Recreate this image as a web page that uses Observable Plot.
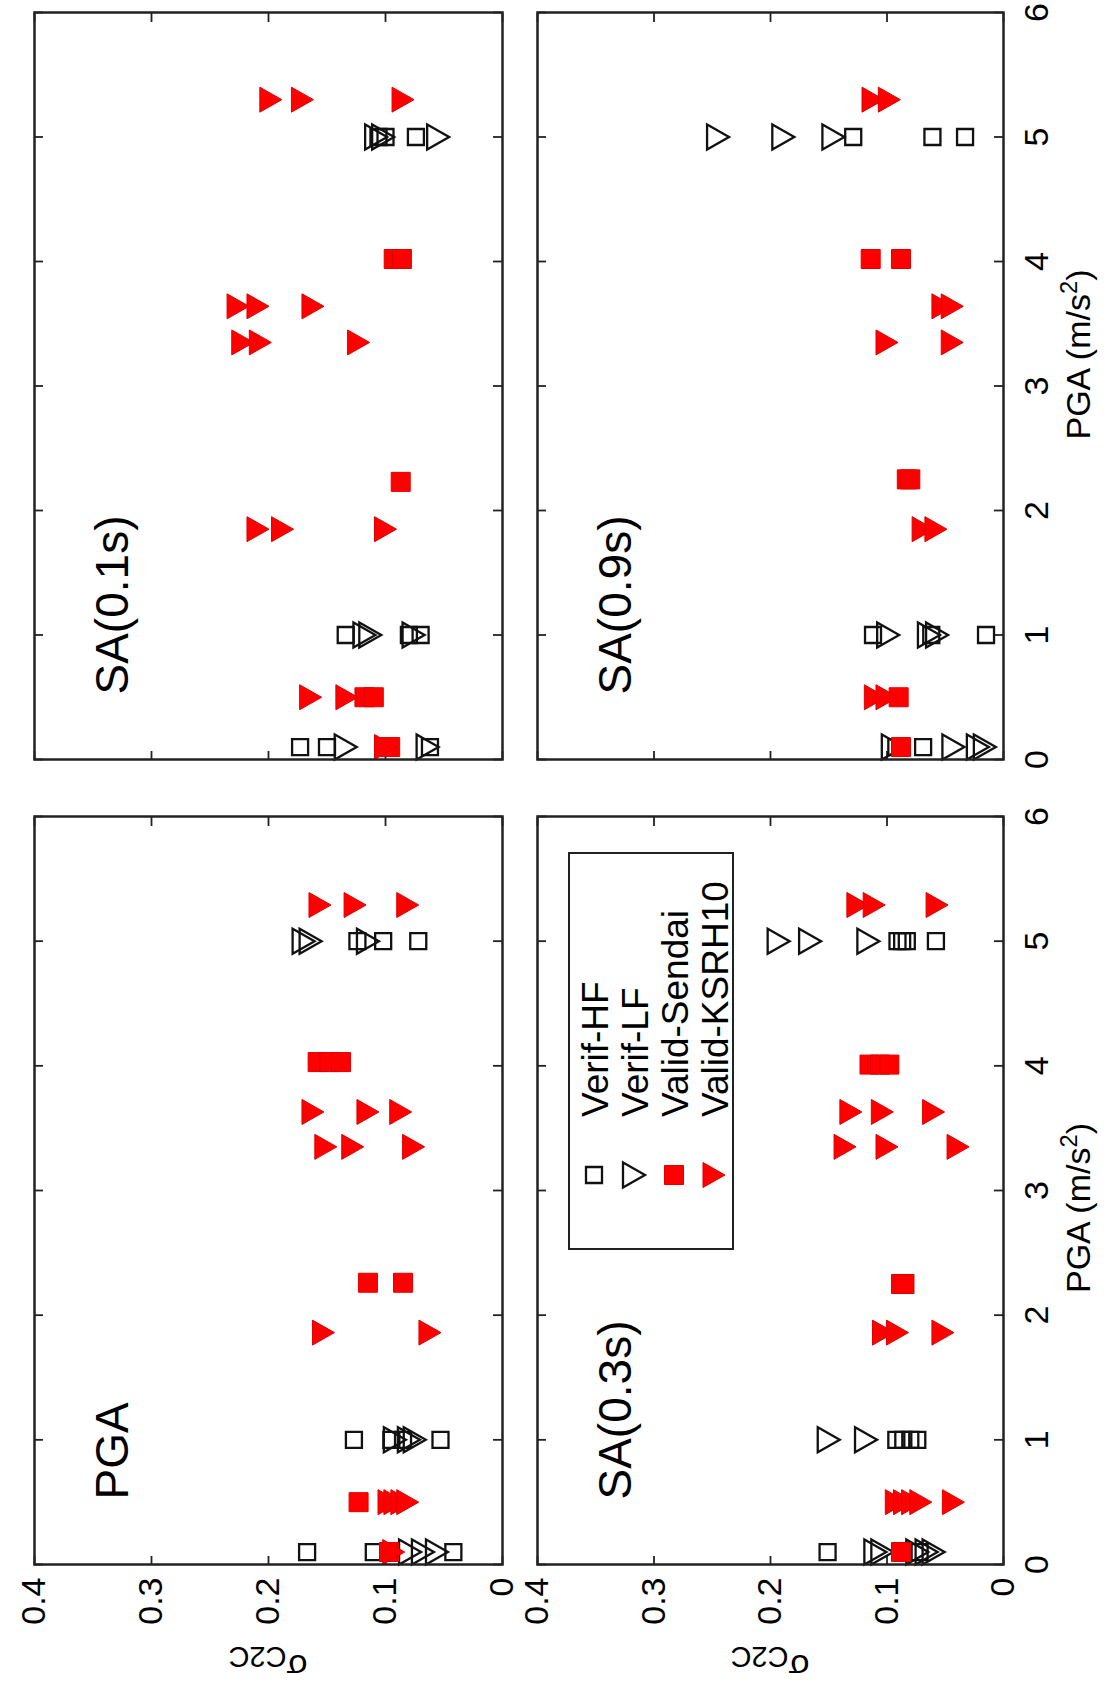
<!DOCTYPE html>
<html>
<head>
<meta charset="utf-8">
<script src="https://cdn.jsdelivr.net/npm/d3@7"></script>
<script src="https://cdn.jsdelivr.net/npm/@observablehq/plot@0.6"></script>
<style>
  html, body { margin: 0; padding: 0; background: #fff; }
  body { width: 1108px; height: 1695px; overflow: hidden; position: relative; }
  #fig { position: absolute; left: 0; top: 0; width: 1695px; height: 1108px;
         transform-origin: 0 0; transform: translate(0px, 1695px) rotate(-90deg);
         font-family: "Liberation Sans", Arial, Helvetica, sans-serif; color: #000; }
  .panel { position: absolute; }
  .lbl { position: absolute; white-space: nowrap; font-size: 34px; line-height: 1; }
  #legend { position: absolute; box-sizing: border-box; border: 2px solid #222; background: #fff; }
  #legend .row { position: absolute; left: 0; height: 40px; width: 100%; }
  #legend svg { position: absolute; left: 58px; top: 5px; }
  #legend span { position: absolute; left: 131px; top: 3px; font-size: 37px; line-height: 1; white-space: nowrap; }
</style>
</head>
<body>
<div id="fig"></div>
<script>
// ---------------- data (PGA in m/s^2, sigma_C2C) ----------------
const xTicks = [0, 1, 2, 3, 4, 5, 6];
const yTicks = [0, 0.1, 0.2, 0.3, 0.4];
const seriesNames = ["Verif-HF", "Verif-LF", "Valid-Sendai", "Valid-KSRH10"];

// Panel PGA
const pga_verifHF = [[0.1,0.167],[0.1,0.110],[0.1,0.042],[1.0,0.127],[1.0,0.095],[1.0,0.085],[1.0,0.053],[5.0,0.124],[5.0,0.102],[5.0,0.072]];
const pga_verifLF = [[0.1,0.079],[0.1,0.068],[0.1,0.056],[1.0,0.092],[1.0,0.080],[1.0,0.075],[5.0,0.170],[5.0,0.164],[5.0,0.115]];
const pga_sendai  = [[0.1,0.097],[0.5,0.123],[2.26,0.115],[2.26,0.085],[4.03,0.158],[4.03,0.148],[4.03,0.138]];
const pga_ksrh10  = [[0.1,0.093],[0.5,0.097],[0.5,0.092],[0.5,0.086],[0.5,0.081],[1.86,0.153],[1.86,0.062],[3.35,0.151],[3.35,0.128],[3.35,0.076],[3.63,0.162],[3.63,0.115],[3.63,0.087],[5.29,0.156],[5.29,0.126],[5.29,0.081]];

// Panel SA(0.1s)
const sa01_verifHF = [[0.1,0.173],[0.1,0.150],[0.1,0.062],[1.0,0.134],[1.0,0.080],[1.0,0.070],[5.0,0.106],[5.0,0.100],[5.0,0.074]];
const sa01_verifLF = [[0.1,0.134],[0.1,0.064],[1.0,0.118],[1.0,0.113],[1.0,0.076],[5.0,0.108],[5.0,0.102],[5.0,0.055]];
const sa01_sendai  = [[0.1,0.096],[0.5,0.118],[0.5,0.110],[2.23,0.087],[4.02,0.093],[4.02,0.086]];
const sa01_ksrh10  = [[0.1,0.100],[0.5,0.164],[0.5,0.133],[1.85,0.209],[1.85,0.188],[1.85,0.100],[3.35,0.222],[3.35,0.207],[3.35,0.123],[3.64,0.226],[3.64,0.209],[3.64,0.162],[5.3,0.198],[5.3,0.171],[5.3,0.085]];

// Panel SA(0.3s)
const sa03_verifHF = [[0.1,0.151],[0.1,0.072],[1.0,0.092],[1.0,0.086],[1.0,0.080],[1.0,0.074],[5.0,0.091],[5.0,0.087],[5.0,0.083],[5.0,0.058]];
const sa03_verifLF = [[0.1,0.110],[0.1,0.104],[0.1,0.074],[0.1,0.066],[0.1,0.060],[1.0,0.150],[1.0,0.118],[5.0,0.193],[5.0,0.166],[5.0,0.116]];
const sa03_sendai  = [[0.1,0.088],[2.25,0.088],[2.25,0.085],[4.01,0.115],[4.01,0.106],[4.01,0.098]];
const sa03_ksrh10  = [[0.5,0.092],[0.5,0.085],[0.5,0.078],[0.5,0.071],[0.5,0.043],[1.86,0.103],[1.86,0.091],[1.86,0.052],[3.35,0.136],[3.35,0.100],[3.35,0.039],[3.63,0.131],[3.63,0.104],[3.63,0.060],[5.29,0.125],[5.29,0.111],[5.29,0.057]];

// Panel SA(0.9s)
const sa09_verifHF = [[0.1,0.092],[0.1,0.069],[1.0,0.112],[1.0,0.062],[1.0,0.015],[5.0,0.129],[5.0,0.061],[5.0,0.033]];
const sa09_verifLF = [[0.1,0.095],[0.1,0.043],[0.1,0.022],[0.1,0.016],[1.0,0.099],[1.0,0.064],[1.0,0.057],[5.0,0.245],[5.0,0.189],[5.0,0.146]];
const sa09_sendai  = [[0.1,0.088],[0.5,0.090],[2.25,0.083],[2.25,0.080],[4.02,0.114],[4.02,0.088]];
const sa09_ksrh10  = [[0.5,0.110],[0.5,0.100],[1.85,0.069],[1.85,0.058],[3.35,0.100],[3.35,0.044],[3.64,0.052],[3.64,0.044],[5.3,0.112],[5.3,0.098]];

// ---------------- symbols (MATLAB 's' and 'v') ----------------
const squareSym = { draw(ctx, size) { const r = Math.sqrt(size / Math.PI);
  ctx.moveTo(-r, -r); ctx.lineTo(r, -r); ctx.lineTo(r, r); ctx.lineTo(-r, r); ctx.closePath(); } };
const downTriSym = { draw(ctx, size) { const r = Math.sqrt(size / Math.PI); const h = r * 0.88;
  ctx.moveTo(-r, -h); ctx.lineTo(r, -h); ctx.lineTo(0, h); ctx.closePath(); } };

const styles = [
  { symbol: squareSym, r: 8,    fill: "none", stroke: "#111", strokeWidth: 2.3 },
  { symbol: downTriSym, r: 12.5, fill: "none", stroke: "#111", strokeWidth: 2.3 },
  { symbol: squareSym, r: 9.5,  fill: "#ff0000", stroke: "#e00000", strokeWidth: 1 },
  { symbol: downTriSym, r: 12.5, fill: "#ff0000", stroke: "#e00000", strokeWidth: 1 }
];

// ---------------- layout (figure drawn landscape, then rotated like the source) ----------------
const panels = [
  { title: "PGA",      x0: 130, y0: 34,  w: 748, h: 468, showY: true,  showX: false, series: [pga_verifHF, pga_verifLF, pga_sendai, pga_ksrh10] },
  { title: "SA(0.1s)", x0: 935, y0: 34,  w: 747, h: 468, showY: false, showX: false, series: [sa01_verifHF, sa01_verifLF, sa01_sendai, sa01_ksrh10] },
  { title: "SA(0.3s)", x0: 130, y0: 537, w: 748, h: 466, showY: true,  showX: true,  xlabShift: -17, series: [sa03_verifHF, sa03_verifLF, sa03_sendai, sa03_ksrh10], legend: true },
  { title: "SA(0.9s)", x0: 935, y0: 537, w: 747, h: 466, showY: false, showX: true,  xlabShift: 32, series: [sa09_verifHF, sa09_verifLF, sa09_sendai, sa09_ksrh10] }
];

const fig = document.getElementById("fig");
const ml = 120, mr = 12, mt = 12, mb = 100;
const tickLen = 9, axisColor = "#222";

for (const p of panels) {
  const W = p.w, H = p.h;
  const marks = [
    Plot.tickX(xTicks, { x: d => d, insetTop: H - tickLen, stroke: axisColor, strokeWidth: 1.8 }),
    Plot.tickX(xTicks, { x: d => d, insetBottom: H - tickLen, stroke: axisColor, strokeWidth: 1.8 }),
    Plot.tickY(yTicks, { y: d => d, insetRight: W - tickLen, stroke: axisColor, strokeWidth: 1.8 }),
    Plot.tickY(yTicks, { y: d => d, insetLeft: W - tickLen, stroke: axisColor, strokeWidth: 1.8 })
  ];
  p.series.forEach((data, i) => {
    const s = styles[i];
    marks.push(Plot.dot(data, { x: d => d[0], y: d => d[1], symbol: s.symbol, r: s.r,
      fill: s.fill, stroke: s.stroke, strokeWidth: s.strokeWidth }));
  });
  marks.push(Plot.frame({ stroke: axisColor, strokeWidth: 2.5 }));
  marks.push(Plot.text([p.title], { frameAnchor: "top-left", text: d => d, dx: 65, dy: 93,
    textAnchor: "start", lineAnchor: "bottom", fontSize: 46, fill: "#000" }));
  if (p.showY) marks.push(Plot.axisY(yTicks, { tickSize: 0, tickPadding: 13, fontSize: 34, label: null,
    tickFormat: d => String(d), fill: "#000" }));
  if (p.showX) marks.push(Plot.axisX(xTicks, { tickSize: 0, tickPadding: 20, fontSize: 34, label: null,
    tickFormat: d => String(d), fill: "#000" }));

  const svg = Plot.plot({
    width: ml + W + mr, height: mt + H + mb,
    marginLeft: ml, marginRight: mr, marginTop: mt, marginBottom: mb,
    x: { domain: [0, 6], axis: null },
    y: { domain: [0, 0.4], axis: null },
    style: { fontFamily: '"Liberation Sans", Arial, Helvetica, sans-serif', fontSize: "34px",
             background: "transparent", overflow: "visible", color: "#000" },
    marks
  });
  svg.classList.add("panel");
  svg.style.left = (p.x0 - ml) + "px";
  svg.style.top = (p.y0 - mt) + "px";
  fig.appendChild(svg);

  // axis titles
  if (p.showY) {
    const d = document.createElement("div");
    d.className = "lbl";
    d.innerHTML = "&sigma;<sub style=\"font-size:0.85em;vertical-align:-0.3em\">C2C</sub>";
    d.style.left = "32px";
    d.style.top = (p.y0 + H / 2) + "px";
    d.style.transform = "translate(-50%,-50%) rotate(-90deg)";
    fig.appendChild(d);
  }
  if (p.showX) {
    const d = document.createElement("div");
    d.className = "lbl";
    d.innerHTML = "PGA (m/s<sup style=\"font-size:0.7em;vertical-align:0.55em\">2</sup>)";
    d.style.left = (p.x0 + W / 2 + (p.xlabShift || 0)) + "px";
    d.style.top = "1076px";
    d.style.transform = "translate(-50%,-50%)";
    fig.appendChild(d);
  }

  if (p.legend) {
    const lg = document.createElement("div");
    lg.id = "legend";
    lg.style.left = "445px"; lg.style.top = "568px";
    lg.style.width = "398px"; lg.style.height = "166px";
    seriesNames.forEach((name, i) => {
      const s = styles[i];
      const row = document.createElement("div");
      row.className = "row";
      row.style.top = (4 + 40 * i) + "px";
      const path = d3.path();
      s.symbol.draw(path, Math.PI * s.r * s.r);
      const svgNS = "http://www.w3.org/2000/svg";
      const sv = document.createElementNS(svgNS, "svg");
      sv.setAttribute("width", 30); sv.setAttribute("height", 30);
      sv.setAttribute("viewBox", "-15 -15 30 30");
      const pe = document.createElementNS(svgNS, "path");
      pe.setAttribute("d", path.toString());
      pe.setAttribute("fill", s.fill); pe.setAttribute("stroke", s.stroke);
      pe.setAttribute("stroke-width", s.strokeWidth);
      sv.appendChild(pe);
      row.appendChild(sv);
      const sp = document.createElement("span");
      sp.textContent = name;
      row.appendChild(sp);
      lg.appendChild(row);
    });
    fig.appendChild(lg);
  }
}
</script>
</body>
</html>
